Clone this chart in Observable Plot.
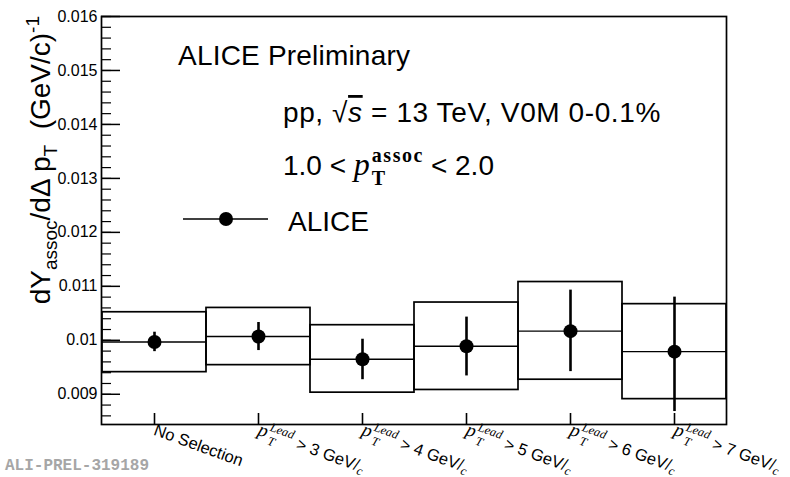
<!DOCTYPE html>
<html><head><meta charset="utf-8">
<script src="https://cdn.jsdelivr.net/npm/d3@7"></script>
<script src="https://cdn.jsdelivr.net/npm/@observablehq/plot@0.6"></script>
<style>body{margin:0;background:#fff} svg{display:block}</style>
</head><body><div id="chart"></div>
<script>
// ---- data ----
const categories = ["No Selection", "pT,Lead > 3 GeV/c", "pT,Lead > 4 GeV/c", "pT,Lead > 5 GeV/c", "pT,Lead > 6 GeV/c", "pT,Lead > 7 GeV/c"];
const values   = [0.00997, 0.01007, 0.00965, 0.00989, 0.01017, 0.00979];
const statLow  = [0.00979, 0.00981, 0.00927, 0.00934, 0.00942, 0.00868];
const statHigh = [0.01015, 0.01033, 0.01002, 0.01043, 0.01093, 0.01080];
const systLow  = [0.00941, 0.00954, 0.00903, 0.00908, 0.00927, 0.00891];
const systHigh = [0.01052, 0.01060, 0.01028, 0.01070, 0.01108, 0.01067];
const yMajorTicks = [0.009, 0.010, 0.011, 0.012, 0.013, 0.014, 0.015, 0.016];
const yMinorTicks = [0.0086, 0.0088, 0.0090, 0.0092, 0.0094, 0.0096, 0.0098, 0.0100, 0.0102, 0.0104, 0.0106, 0.0108, 0.0110, 0.0112, 0.0114, 0.0116, 0.0118, 0.0120, 0.0122, 0.0124, 0.0126, 0.0128, 0.0130, 0.0132, 0.0134, 0.0136, 0.0138, 0.0140, 0.0142, 0.0144, 0.0146, 0.0148, 0.0150, 0.0152, 0.0154, 0.0156, 0.0158, 0.0160];
const yDomain = [0.00844, 0.016];

const rows = categories.map((c, i) => ({c, v: values[i], sLo: statLow[i], sHi: statHigh[i], yLo: systLow[i], yHi: systHigh[i]}));

const W = 790, H = 477, ML = 101, MR = 64, MT = 16, MB = 53;
const FW = W - ML - MR, FH = H - MT - MB;
const SANS = "'Liberation Sans', Arial, Helvetica, sans-serif";
const SERIF = "'Liberation Serif', 'Times New Roman', serif";

const plot = Plot.plot({
  width: W, height: H,
  marginLeft: ML, marginRight: MR, marginTop: MT, marginBottom: MB,
  style: {fontFamily: SANS, fontSize: "16px", background: "white", color: "black", overflow: "visible"},
  x: {type: "band", domain: categories, padding: 0, label: null},
  y: {domain: yDomain, label: null},
  marks: [
    Plot.barY(rows, {x: "c", y1: "yLo", y2: "yHi", fill: "none", stroke: "black", strokeWidth: 1.7}),
    Plot.tickY(rows, {x: "c", y: "v", stroke: "black", strokeWidth: 1.4}),
    Plot.ruleX(rows, {x: "c", y1: "sLo", y2: "sHi", stroke: "black", strokeWidth: 2.6}),
    Plot.dot(rows, {x: "c", y: "v", r: 7, fill: "black", stroke: null}),
    Plot.ruleY(yMinorTicks, {y: d => d, insetRight: FW - 10, stroke: "black", strokeWidth: 1.2}),
    Plot.ruleY(yMajorTicks, {y: d => d, insetRight: FW - 19, stroke: "black", strokeWidth: 1.5}),
    Plot.ruleX(categories, {x: d => d, insetTop: FH - 11, stroke: "black", strokeWidth: 1.6}),
    Plot.axisY({ticks: yMajorTicks, tickSize: 0, tickPadding: 4, tickFormat: d => String(+d.toFixed(3)), fontSize: 16, label: null}),
    Plot.axisX({tickSize: 0, tickPadding: 5, tickRotate: 20, fontSize: 16.5, label: null}),
    Plot.frame({stroke: "black", strokeWidth: 1.7})
  ]
});
document.getElementById("chart").appendChild(plot);

const svg = d3.select(plot);

function rich(sel, parts) {
  for (const p of parts) {
    const t = sel.append("tspan").text(p.t);
    if (p.dx != null) t.attr("dx", p.dx);
    if (p.dy != null) t.attr("dy", p.dy);
    if (p.size) t.attr("font-size", p.size);
    if (p.family) t.attr("font-family", p.family);
    if (p.italic) t.attr("font-style", "italic");
    if (p.bold) t.attr("font-weight", "bold");
    if (p.ls != null) t.attr("letter-spacing", p.ls);
    if (p.deco) t.style("text-decoration", p.deco);
  }
  return sel;
}

// x tick labels with sub/superscripts
svg.selectAll('g[aria-label="x-axis tick label"] text').each(function() {
  const s = this.textContent;
  const m = s.match(/^pT,Lead > (\d+) GeV\/c$/);
  if (!m) return;
  const t = d3.select(this);
  t.text(null);
  rich(t, [
    {t: "p", family: SERIF, italic: true, size: 19},
    {t: "Lead", family: SERIF, italic: true, size: 12.5, dx: 1, dy: -8},
    {t: "T", family: SERIF, italic: true, size: 12.5, dx: -23, dy: 14},
    {t: " > " + m[1] + " GeV/", family: SANS, size: 16.5, dx: 17, dy: -6},
    {t: "c", family: SERIF, italic: true, size: 12.5, dy: 3}
  ]);
});

const g = svg.append("g").attr("fill", "black").attr("text-anchor", "start").style("white-space", "pre");

// y-axis title
rich(g.append("text").attr("transform", "translate(50,16) rotate(-90)").attr("text-anchor", "end")
  .attr("font-family", SANS).attr("font-size", 28), [
  {t: "dY"},
  {t: "assoc", size: 19, dy: 7},
  {t: "/dΔ p", dy: -7},
  {t: "T", size: 19, dy: 7},
  {t: "  (GeV/c)", dy: -7},
  {t: "-1", size: 19, dy: -11}
]);

// annotations
g.append("text").attr("x", 178).attr("y", 65).attr("font-family", SANS).attr("font-size", 28).attr("letter-spacing", 0.2).text("ALICE Preliminary");

rich(g.append("text").attr("x", 283).attr("y", 122).attr("font-family", SANS).attr("font-size", 28).attr("letter-spacing", 0.6), [
  {t: "pp, √"},
  {t: "s", italic: true, deco: "overline"},
  {t: " = 13 TeV, V0M 0-0.1%"}
]);

rich(g.append("text").attr("x", 283).attr("y", 175).attr("font-family", SANS).attr("font-size", 28), [
  {t: "1.0 < "},
  {t: "p", family: SERIF, italic: true, size: 32},
  {t: "assoc", family: SERIF, bold: true, size: 20, ls: 1.5, dx: 2, dy: -13},
  {t: "T", family: SERIF, bold: true, size: 20, ls: 0, dx: -52, dy: 23},
  {t: " < 2.0", ls: 0, dx: 38, dy: -10}
]);

// legend
g.append("line").attr("x1", 183).attr("x2", 268).attr("y1", 219).attr("y2", 219).attr("stroke", "black").attr("stroke-width", 1.6);
g.append("circle").attr("cx", 226).attr("cy", 219).attr("r", 7).attr("fill", "black");
g.append("text").attr("x", 288).attr("y", 231).attr("font-family", SANS).attr("font-size", 28).text("ALICE");

// watermark
g.append("text").attr("x", 5).attr("y", 470).attr("font-family", "'Liberation Mono', 'DejaVu Sans Mono', monospace")
  .attr("font-weight", "bold").attr("font-size", 16).attr("fill", "#a6a6a6").text("ALI-PREL-319189");
</script>
</body></html>
